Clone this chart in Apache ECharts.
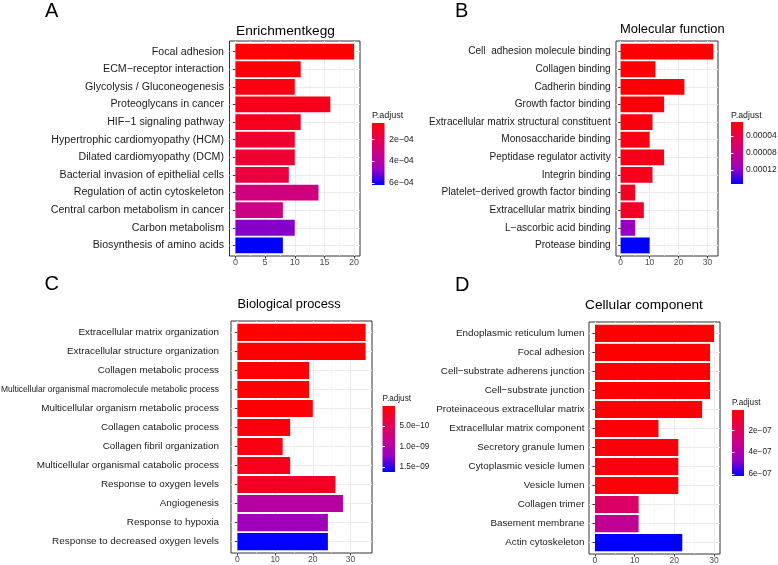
<!DOCTYPE html>
<html><head><meta charset="utf-8">
<script src="https://cdn.jsdelivr.net/npm/echarts@6/dist/echarts.min.js"></script>
<style>html,body{margin:0;padding:0;background:#fff}#c{width:778px;height:565px}</style>
</head><body><div id="c"></div>
<script>
// ---------------- DATA ----------------
const catsA = ['Focal adhesion','ECM−receptor interaction','Glycolysis / Gluconeogenesis','Proteoglycans in cancer','HIF−1 signaling pathway','Hypertrophic cardiomyopathy (HCM)','Dilated cardiomyopathy (DCM)','Bacterial invasion of epithelial cells','Regulation of actin cytoskeleton','Central carbon metabolism in cancer','Carbon metabolism','Biosynthesis of amino acids'];
const countA = [20, 11, 10, 16, 11, 10, 10, 9, 14, 8, 10, 8];
const padjA = [5.0e-5, 6.7e-5, 7.9e-5, 9.6e-5, 1.07e-4, 1.36e-4, 1.41e-4, 1.64e-4, 3.07e-4, 3.24e-4, 4.95e-4, 6.2e-4];

const catsB = ['Cell  adhesion molecule binding','Collagen binding','Cadherin binding','Growth factor binding','Extracellular matrix structural constituent','Monosaccharide binding','Peptidase regulator activity','Integrin binding','Platelet−derived growth factor binding','Extracellular matrix binding','L−ascorbic acid binding','Protease binding'];
const countB = [32, 12, 22, 15, 11, 10, 15, 11, 5, 8, 5, 10];
const padjB = [7e-6, 8.5e-6, 1.0e-5, 1.15e-5, 1.4e-5, 1.6e-5, 1.9e-5, 2.0e-5, 2.3e-5, 2.5e-5, 1.16e-4, 1.53e-4];

const catsC = ['Extracellular matrix organization','Extracellular structure organization','Collagen metabolic process','Multicellular organismal macromolecule metabolic process','Multicellular organism metabolic process','Collagen catabolic process','Collagen fibril organization','Multicellular organismal catabolic process','Response to oxygen levels','Angiogenesis','Response to hypoxia','Response to decreased oxygen levels'];
const countC = [34, 34, 19, 19, 20, 14, 12, 14, 26, 28, 24, 24];
const padjC = [1.0e-11, 1.8e-11, 2.6e-11, 2.9e-11, 3.4e-11, 7.4e-11, 1.07e-10, 1.39e-10, 2.03e-10, 9.8e-10, 1.17e-9, 1.62e-9];

const catsD = ['Endoplasmic reticulum lumen','Focal adhesion','Cell−substrate adherens junction','Cell−substrate junction','Proteinaceous extracellular matrix','Extracellular matrix component','Secretory granule lumen','Cytoplasmic vesicle lumen','Vesicle lumen','Collagen trimer','Basement membrane','Actin cytoskeleton'];
const countD = [30, 29, 29, 29, 27, 16, 21, 21, 21, 11, 11, 22];
const padjD = [1.0e-8, 1.3e-8, 1.5e-8, 1.6e-8, 1.7e-8, 2.8e-8, 3.1e-8, 3.3e-8, 3.4e-8, 2.2e-7, 3.45e-7, 6.2e-7];

const xTicksA = [0, 5, 10, 15, 20];
const xMinorA = [2.5, 7.5, 12.5, 17.5];
const xTicksBCD = [0, 10, 20, 30];
const xMinorBCD = [5, 15, 25];

const legTicksA = [2e-4, 4e-4, 6e-4];   const legLabelsA = ['2e−04', '4e−04', '6e−04'];
const legTicksB = [4e-5, 8e-5, 1.2e-4]; const legLabelsB = ['0.00004', '0.00008', '0.00012'];
const legTicksC = [5e-10, 1e-9, 1.5e-9]; const legLabelsC = ['5.0e−10', '1.0e−09', '1.5e−09'];
const legTicksD = [2e-7, 4e-7, 6e-7];   const legLabelsD = ['2e−07', '4e−07', '6e−07'];

const titles = ['Enrichmentkegg', 'Molecular function', 'Biological process', 'Cellular component'];
const letters = ['A', 'B', 'C', 'D'];
const legendTitle = 'P.adjust';

// ---------------- LAYOUT / STYLE ----------------
const FONT = "'Liberation Sans', Arial, Helvetica, sans-serif";
const RAMP = ['#FF0000', '#E5004D', '#C90089', '#9A00C3', '#0000FF'];

const panels = [
  { cats: catsA, counts: countA, padj: padjA, xt: xTicksA, xm: xMinorA, lt: legTicksA, ll: legLabelsA,
    box: { l: 229.5, t: 41, w: 130.5, h: 215 }, labFont: 10.65, labMargin: 5.5, xFont: 9,
    title: { x: 236, y: 31, size: 13.7 }, letter: { x: 45, y: 11 },
    leg: { l: 372, t: 123, w: 12.5, h: 62, ty: 116, tFont: 9, lFont: 8.8, lMargin: 4.5 }, small: -1 },
  { cats: catsB, counts: countB, padj: padjB, xt: xTicksBCD, xm: xMinorBCD, lt: legTicksB, ll: legLabelsB,
    box: { l: 616, t: 41, w: 102, h: 215 }, labFont: 10.1, labMargin: 5.3, xFont: 8.5,
    title: { x: 620, y: 29.5, size: 12.9 }, letter: { x: 455, y: 11 },
    leg: { l: 731, t: 122, w: 12, h: 62, ty: 116, tFont: 8.8, lFont: 8.5, lMargin: 3 }, small: -1 },
  { cats: catsC, counts: countC, padj: padjC, xt: xTicksBCD, xm: xMinorBCD, lt: legTicksC, ll: legLabelsC,
    box: { l: 231, t: 321, w: 141, h: 232 }, labFont: 9.9, labMargin: 12, xFont: 8.5,
    title: { x: 237.5, y: 304, size: 12.8 }, letter: { x: 44.5, y: 284 },
    leg: { l: 382.5, t: 406, w: 12.5, h: 66, ty: 399, tFont: 8.2, lFont: 8.2, lMargin: 4.5 }, small: 3, smallFont: 8.45 },
  { cats: catsD, counts: countD, padj: padjD, xt: xTicksBCD, xm: xMinorBCD, lt: legTicksD, ll: legLabelsD,
    box: { l: 589, t: 322, w: 131, h: 232 }, labFont: 9.85, labMargin: 4.5, xFont: 8.5,
    title: { x: 585, y: 305, size: 13.7 }, letter: { x: 455, y: 285 },
    leg: { l: 732, t: 410, w: 12, h: 66, ty: 403, tFont: 8.2, lFont: 8.2, lMargin: 4.5 }, small: -1 }
];

const grid = [], xAxis = [], yAxis = [], series = [], visualMap = [], graphic = [];

panels.forEach((p, k) => {
  const n = p.cats.length;
  const maxC = Math.max(...p.counts);
  const xmin = -0.05 * maxC, xmax = 1.05 * maxC;
  const pos = p.cats.map((_, i) => i + 1);
  const pmin = Math.min(...p.padj), pmax = Math.max(...p.padj);

  grid.push({ left: p.box.l, top: p.box.t, width: p.box.w, height: p.box.h, outerBoundsMode: 'none', containLabel: false,
    show: true, borderColor: '#333333', borderWidth: 1, backgroundColor: 'transparent' });
  grid.push({ left: p.leg.l, top: p.leg.t, width: p.leg.w, height: p.leg.h, outerBoundsMode: 'none', containLabel: false, show: false });
  const gMain = 2 * k, gLeg = 2 * k + 1;

  xAxis.push({ type: 'value', gridIndex: gMain, min: xmin, max: xmax, position: 'bottom',
    axisLine: { show: false }, axisLabel: { show: false },
    axisTick: { show: false, customValues: p.xm },
    splitLine: { show: true, lineStyle: { color: '#F3F3F3', width: 0.6 } } });
  xAxis.push({ type: 'value', gridIndex: gMain, min: xmin, max: xmax, position: 'bottom',
    axisLine: { show: false },
    axisTick: { show: true, length: 2.5, customValues: p.xt, lineStyle: { color: '#333333', width: 1 } },
    axisLabel: { show: true, customValues: p.xt, margin: 2.5, fontSize: p.xFont, fontFamily: FONT, color: '#4D4D4D' },
    splitLine: { show: true, lineStyle: { color: '#EBEBEB', width: 1 } } });
  xAxis.push({ type: 'value', gridIndex: gLeg, show: false });

  yAxis.push({ type: 'value', gridIndex: gMain, min: 0.4, max: n + 0.6, inverse: true,
    axisLine: { show: false },
    axisTick: { show: true, length: 2.5, customValues: pos, lineStyle: { color: '#333333', width: 1 } },
    axisLabel: { show: true, customValues: pos, margin: p.labMargin, fontSize: p.labFont, fontFamily: FONT, color: '#1A1A1A',
      formatter: v => { const i = Math.round(v) - 1; return i === p.small ? '{s|' + p.cats[i] + '}' : p.cats[i]; },
      rich: { s: { fontSize: p.smallFont || p.labFont, fontFamily: FONT, color: '#1A1A1A' } } },
    splitLine: { show: true, lineStyle: { color: '#EBEBEB', width: 1 } } });
  yAxis.push({ type: 'value', gridIndex: gLeg, min: pmin, max: pmax, inverse: true, position: 'right', z: 10,
    axisLine: { show: false },
    axisTick: { show: true, inside: true, length: p.leg.w / 5, customValues: p.lt, lineStyle: { color: '#FFFFFF', width: 1 } },
    axisLabel: { show: true, customValues: p.lt, margin: p.leg.lMargin, fontSize: p.leg.lFont, fontFamily: FONT, color: '#1A1A1A',
      formatter: v => { const i = p.lt.findIndex(t => Math.abs(t - v) < Math.abs(t) * 1e-6); return i >= 0 ? p.ll[i] : ''; } },
    splitLine: { show: false } });
  yAxis.push({ type: 'value', gridIndex: gLeg, min: pmin, max: pmax, inverse: true, position: 'left', z: 10,
    axisLine: { show: false },
    axisTick: { show: true, inside: true, length: p.leg.w / 5, customValues: p.lt, lineStyle: { color: '#FFFFFF', width: 1 } },
    axisLabel: { show: false }, splitLine: { show: false } });

  series.push({
    type: 'custom', xAxisIndex: 3 * k + 1, yAxisIndex: 3 * k,
    encode: { x: 0, y: 1 },
    data: p.cats.map((c, i) => [p.counts[i], i + 1, p.padj[i]]),
    renderItem: (params, api) => {
      const v = api.value(0), y = api.value(1);
      const a = api.coord([0, y]);
      const b = api.coord([v, y]);
      const h = api.size([0, 0.9])[1];
      return { type: 'rect', shape: { x: a[0], y: a[1] - h / 2, width: b[0] - a[0], height: h },
        style: { fill: api.visual('color') } };
    },
    animation: false, silent: true
  });

  visualMap.push({ type: 'continuous', seriesIndex: k, dimension: 2, min: pmin, max: pmax,
    inRange: { color: RAMP }, show: false });

  graphic.push({ type: 'rect', z: 1, silent: true,
    shape: { x: p.leg.l, y: p.leg.t, width: p.leg.w, height: p.leg.h },
    style: { fill: new echarts.graphic.LinearGradient(0, 0, 0, 1,
      RAMP.map((c, i) => ({ offset: i / (RAMP.length - 1), color: c }))) } });
  graphic.push({ type: 'text', x: p.title.x, y: p.title.y, silent: true,
    style: { text: titles[k], font: p.title.size + 'px ' + FONT, fill: '#000', align: 'left', verticalAlign: 'middle' } });
  graphic.push({ type: 'text', x: p.letter.x, y: p.letter.y, silent: true,
    style: { text: letters[k], font: '20px ' + FONT, fill: '#000', align: 'left', verticalAlign: 'middle' } });
  graphic.push({ type: 'text', x: p.leg.l, y: p.leg.ty, silent: true,
    style: { text: legendTitle, font: p.leg.tFont + 'px ' + FONT, fill: '#1A1A1A', align: 'left', verticalAlign: 'middle' } });
});

const chart = echarts.init(document.getElementById('c'), null, { renderer: 'canvas' });
chart.setOption({ backgroundColor: '#FFFFFF', animation: false, textStyle: { fontFamily: FONT },
  grid, xAxis, yAxis, series, visualMap, graphic: { elements: graphic } });
</script></body></html>
